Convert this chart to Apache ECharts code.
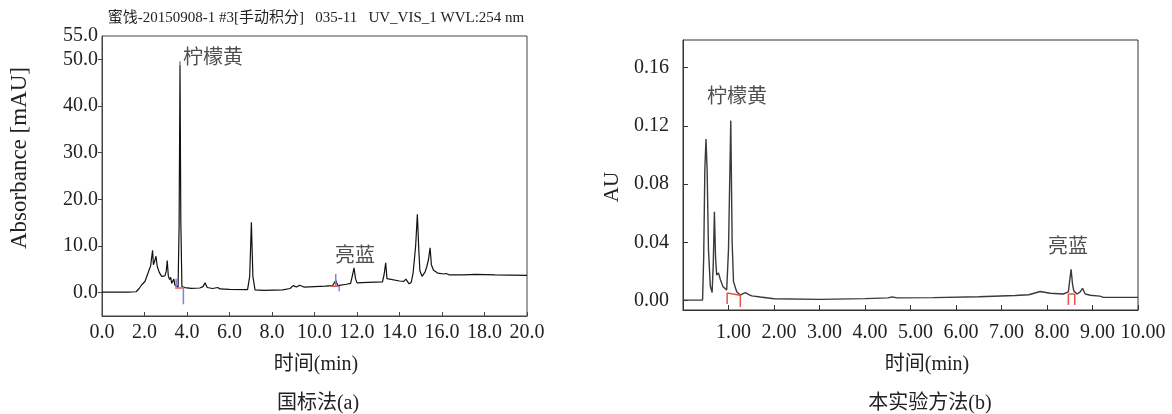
<!DOCTYPE html>
<html>
<head>
<meta charset="utf-8">
<title>色谱图对比</title>
<script src="https://cdn.jsdelivr.net/npm/echarts@6/dist/echarts.min.js"></script>
<style>
  html, body { margin: 0; padding: 0; background: #fff; }
  #chart { width: 1172px; height: 414px; }
</style>
</head>
<body>
<div id="chart"></div>
<script>
// 国标法(a) 色谱曲线 [时间 min, 吸光度 mAU]
const leftTrace = [
  [0, 0.1], [1.2, 0.1], [1.6, 0.2], [1.75, 0.9], [1.87, 1.7], [1.96, 1.6], [2.02, 2.4], [2.15, 4.0],
  [2.29, 5.8], [2.38, 9.1], [2.42, 6.0], [2.47, 6.6], [2.54, 7.8], [2.6, 5.6], [2.7, 4.3], [2.81, 3.5],
  [2.9, 3.3], [2.96, 3.6], [3.02, 4.5], [3.07, 6.9], [3.12, 3.6], [3.18, 2.8], [3.23, 3.3], [3.28, 2.0],
  [3.33, 2.2], [3.38, 2.9], [3.43, 1.6], [3.5, 1.4], [3.58, 1.2], [3.63, 15], [3.67, 48.8], [3.71, 15],
  [3.76, 1.3], [3.9, 1.1], [4.2, 0.9], [4.6, 1.0], [4.75, 1.3], [4.85, 2.1], [4.95, 1.1], [5.2, 0.9],
  [5.45, 1.1], [5.55, 0.8], [6.0, 0.7], [6.85, 0.65], [6.95, 3.5], [7.03, 15.1], [7.1, 3.5], [7.2, 0.6],
  [7.6, 0.5], [8.5, 0.6], [8.85, 0.9], [9.0, 1.5], [9.15, 1.2], [9.3, 1.6], [9.5, 1.2], [10.0, 1.3],
  [10.5, 1.4], [10.85, 1.5], [11.0, 2.6], [11.1, 1.5], [11.5, 1.8], [11.7, 2.0], [11.8, 4.0], [11.86, 5.3],
  [11.93, 3.0], [12.0, 2.1], [12.5, 2.2], [13.2, 2.3], [13.28, 4.0], [13.35, 6.4], [13.41, 3.0], [13.5, 2.6],
  [14.0, 2.5], [14.2, 2.4], [14.3, 2.9], [14.45, 1.9], [14.55, 2.2], [14.64, 4.2], [14.76, 10], [14.84, 16.8],
  [14.91, 9], [14.96, 4.7], [15.06, 3.5], [15.2, 4.4], [15.28, 5.5], [15.36, 7], [15.44, 9.6], [15.5, 6],
  [15.6, 4.8], [15.8, 4.2], [16.1, 4.0], [16.2, 4.1], [16.35, 3.8], [17.0, 3.8], [17.6, 3.9], [18.5, 3.8],
  [20, 3.7]
]
// 本实验方法(b) 色谱曲线 [时间 min, AU]
const rightTrace = [
  [0, 0.0003], [0.43, 0.0003], [0.455, 0.03], [0.48, 0.09], [0.505, 0.111], [0.53, 0.09], [0.56, 0.035],
  [0.6, 0.01], [0.64, 0.0055], [0.665, 0.025], [0.69, 0.061], [0.715, 0.03], [0.74, 0.0175], [0.78, 0.019],
  [0.82, 0.0145], [0.88, 0.0095], [0.96, 0.0072], [1.0, 0.035], [1.05, 0.1236], [1.08, 0.04], [1.11, 0.013],
  [1.18, 0.006], [1.26, 0.0038], [1.32, 0.0048], [1.37, 0.0055], [1.44, 0.0043], [1.51, 0.0032], [1.7, 0.0024],
  [2.0, 0.0012], [3.0, 0.0008], [4.0, 0.0013], [4.5, 0.0018], [4.6, 0.0025], [4.7, 0.0018], [5.5, 0.002],
  [6.5, 0.0026], [7.3, 0.0035], [7.6, 0.004], [7.85, 0.0062], [8.07, 0.005], [8.36, 0.0045], [8.47, 0.006],
  [8.5, 0.014], [8.53, 0.0214], [8.56, 0.0115], [8.59, 0.0065], [8.66, 0.0045], [8.73, 0.006], [8.78, 0.0084],
  [8.84, 0.0045], [8.95, 0.0036], [9.16, 0.003], [9.24, 0.0022], [10, 0.0022]
]
// 积分标记 (每段两点)
const leftRedMarks = [
  [[3.44, 1.0], [3.80, 1.0]],
  [[10.77, 1.35], [11.16, 1.35]]
]
const leftBlueMarks = [
  [[3.49, 1.2], [3.49, 3.0]],
  [[3.83, 1.2], [3.83, -2.5]],
  [[3.67, 48.6], [3.67, 49.6]],
  [[11.0, 1.4], [11.0, 4.0]],
  [[11.16, 1.4], [11.16, 0.3]]
]
const rightRedMarks = [
  [[0.97, 0.0052], [1.26, 0.0036]],
  [[0.97, 0.0052], [0.97, -0.0024]],
  [[1.26, 0.0036], [1.26, -0.0045]],
  [[8.47, 0.0045], [8.61, 0.0045]],
  [[8.47, 0.0045], [8.47, -0.003]],
  [[8.61, 0.0045], [8.61, -0.003]]
]
// 峰名称标注 [时间, 值, 名称]
const leftPeakNames = [[3.81, 50.1, '柠檬黄'], [10.96, 7.7, '亮蓝']]
const rightPeakNames = [[0.53, 0.139, '柠檬黄'], [8.02, 0.036, '亮蓝']]
// 刻度
const leftYLabels = [0, 10, 20, 30, 40, 50, 55]
const leftYTicks = [0, 10, 20, 30, 40, 50]
const rightYTicks = [0, 0.04, 0.08, 0.12, 0.16]

const FONT = "'Liberation Serif', 'Noto Sans CJK SC', serif"
const TEXT = '#222'

function markSeries(segments, idx, color) {
  return segments.map(seg => ({
    type: 'line',
    xAxisIndex: idx,
    yAxisIndex: idx,
    data: seg,
    symbol: 'none',
    silent: true,
    lineStyle: { color: color, width: 1.5 },
    z: 3
  }))
}

function nameSeries(items, idx) {
  return {
    type: 'scatter',
    xAxisIndex: idx,
    yAxisIndex: idx,
    symbolSize: 0,
    silent: true,
    data: items.map(d => ({ value: [d[0], d[1]], name: d[2] })),
    label: {
      show: true,
      position: 'right',
      distance: 0,
      formatter: p => p.name,
      fontFamily: FONT,
      fontSize: 20,
      color: TEXT
    }
  }
}

const chart = echarts.init(document.getElementById('chart'))
chart.setOption({
  animation: false,
  grid: [
    { left: 102, top: 36, width: 425, height: 280, show: true, borderColor: '#444', borderWidth: 1 },
    { left: 683, top: 40, width: 455, height: 270, show: true, borderColor: '#333', borderWidth: 1 }
  ],
  xAxis: [
    {
      gridIndex: 0,
      type: 'value',
      min: 0,
      max: 20,
      interval: 2,
      splitLine: { show: false },
      axisLine: { show: true, onZero: false, lineStyle: { color: '#444' } },
      axisTick: { inside: true, length: 4, lineStyle: { color: '#444' } },
      axisLabel: {
        margin: 7,
        fontFamily: FONT,
        fontSize: 20,
        color: TEXT,
        formatter: v => v.toFixed(1)
      }
    },
    {
      gridIndex: 1,
      type: 'value',
      min: 0,
      max: 10,
      interval: 1,
      splitLine: { show: false },
      axisLine: { show: true, onZero: false, lineStyle: { color: '#333' } },
      axisTick: { inside: true, length: 5, lineStyle: { color: '#333' } },
      axisLabel: {
        margin: 13,
        showMinLabel: false,
        fontFamily: FONT,
        fontSize: 20,
        color: TEXT,
        padding: [0, 0, 0, 10],
        formatter: v => v.toFixed(2)
      }
    }
  ],
  yAxis: [
    {
      gridIndex: 0,
      type: 'value',
      min: -5,
      max: 55,
      splitLine: { show: false },
      axisLine: { show: true, onZero: false, lineStyle: { color: '#444' } },
      axisTick: { inside: false, length: 4, customValues: leftYTicks, lineStyle: { color: '#444' } },
      axisLabel: {
        margin: 4,
        customValues: leftYLabels,
        fontFamily: FONT,
        fontSize: 20,
        color: TEXT,
        formatter: v => v.toFixed(1)
      }
    },
    {
      gridIndex: 1,
      type: 'value',
      min: -0.0065,
      max: 0.179,
      splitLine: { show: false },
      axisLine: { show: true, onZero: false, lineStyle: { color: '#333' } },
      axisTick: { inside: true, length: 5, customValues: rightYTicks, lineStyle: { color: '#333' } },
      axisLabel: {
        margin: 14,
        customValues: rightYTicks,
        fontFamily: FONT,
        fontSize: 20,
        color: TEXT,
        formatter: v => v.toFixed(2)
      }
    }
  ],
  series: [
    {
      type: 'line',
      xAxisIndex: 0,
      yAxisIndex: 0,
      data: leftTrace,
      symbol: 'none',
      lineStyle: { color: '#111', width: 1.2 },
      z: 2
    },
    {
      type: 'line',
      xAxisIndex: 1,
      yAxisIndex: 1,
      data: rightTrace,
      symbol: 'none',
      lineStyle: { color: '#3a3a3a', width: 1.4 },
      z: 2
    },
    ...markSeries(leftRedMarks, 0, '#e0564f'),
    ...markSeries(leftBlueMarks, 0, '#8080d8'),
    ...markSeries(rightRedMarks, 1, '#e8504a'),
    nameSeries(leftPeakNames, 0),
    nameSeries(rightPeakNames, 1)
  ],
  // 标题、坐标轴名称和图注
  graphic: [
    {
      type: 'text', x: 316, y: 18,
      style: {
        text: '蜜饯-20150908-1 #3[手动积分]   035-11   UV_VIS_1 WVL:254 nm',
        fontFamily: FONT, fontSize: 15, fill: TEXT, align: 'center', verticalAlign: 'middle'
      }
    },
    {
      type: 'text', x: 20, y: 158, rotation: Math.PI / 2,
      style: { text: 'Absorbance [mAU]', fontFamily: FONT, fontSize: 23, fill: TEXT, align: 'center', verticalAlign: 'middle' }
    },
    {
      type: 'text', x: 316, y: 365,
      style: { text: '时间(min)', fontFamily: FONT, fontSize: 20, fill: TEXT, align: 'center', verticalAlign: 'middle' }
    },
    {
      type: 'text', x: 318, y: 404,
      style: { text: '国标法(a)', fontFamily: FONT, fontSize: 20, fill: TEXT, align: 'center', verticalAlign: 'middle' }
    },
    {
      type: 'text', x: 612, y: 187, rotation: Math.PI / 2,
      style: { text: 'AU', fontFamily: FONT, fontSize: 21, fill: TEXT, align: 'center', verticalAlign: 'middle' }
    },
    {
      type: 'text', x: 927, y: 365,
      style: { text: '时间(min)', fontFamily: FONT, fontSize: 20, fill: TEXT, align: 'center', verticalAlign: 'middle' }
    },
    {
      type: 'text', x: 930, y: 404,
      style: { text: '本实验方法(b)', fontFamily: FONT, fontSize: 20, fill: TEXT, align: 'center', verticalAlign: 'middle' }
    }
  ]
})
</script>
</body>
</html>
